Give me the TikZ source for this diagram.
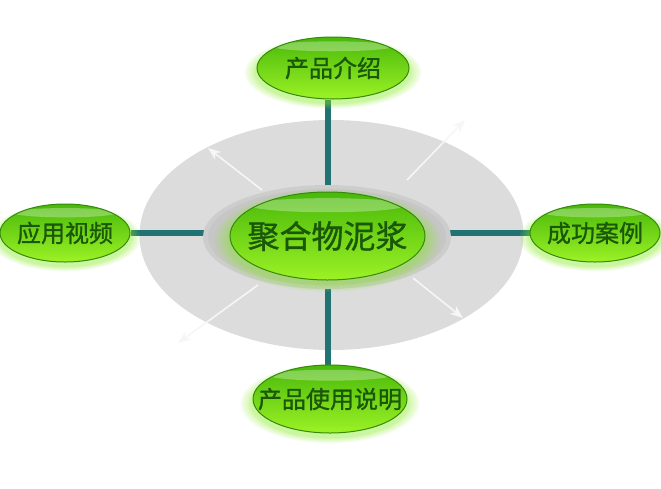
\documentclass[tikz,border=0pt]{standalone}
\usepackage{fontspec}
\newfontfamily\cjk[FakeBold=1.1]{Noto Sans CJK SC}
\usepackage{tikz}
\usetikzlibrary{shapes.geometric,shadows,arrows.meta,calc}

\definecolor{panelgray}{HTML}{DCDCDC}
\definecolor{innergray}{HTML}{C6C6C6}
\definecolor{wirecol}{HTML}{217373}
\definecolor{flowcol}{HTML}{F6F6F6}
\definecolor{bubbletop}{HTML}{48B80A}
\definecolor{bubblemid}{HTML}{6CD814}
\definecolor{bubblebot}{HTML}{9CF225}
\definecolor{bubbleedge}{HTML}{358A0A}
\definecolor{bubbletext}{HTML}{1A5808}
\definecolor{glowcol}{HTML}{86EA22}

\pgfdeclarelayer{back}
\pgfdeclarelayer{wire}
\pgfsetlayers{back,wire,main}

% text of a bubble, kept from widening the ellipse
\newcommand{\bubtext}[1]{\smash{\makebox[0pt]{\raisebox{-.38em}{#1}}}}

\begin{document}
\begin{tikzpicture}[x=1pt, y=-1pt,
  glowring/.style={general shadow={fill=glowcol, fill opacity=.09, shadow scale=#1, shadow yshift=-4pt}},
  bubble/.style={ellipse, draw=bubbleedge, line width=1pt, inner sep=0pt,
    top color=bubbletop, middle color=bubblemid, bottom color=bubblebot, text=bubbletext,
    font=\cjk\fontsize{24}{24}\selectfont,
    glowring=1.16, glowring=1.13, glowring=1.10, glowring=1.07, glowring=1.05, glowring=1.03,
    path picture={
      \path let \p1=($(path picture bounding box.north east)-(path picture bounding box.south west)$) in
        [fill=white, fill opacity=.30]
        ($(path picture bounding box.north)+(0pt,-0.15*\y1)$) ellipse [x radius=0.40*\x1, y radius=0.08*\y1];
    }},
  wire/.style={draw=wirecol, line width=6pt},
  flow/.style={-{Stealth[length=13pt,width=10pt,inset=4pt]}, draw=flowcol, line width=1.6pt}
]
\useasboundingbox (0,0) rectangle (661,488);

% grey panel and flow arrows
\begin{pgfonlayer}{back}
\fill[panelgray] (331.5,235) ellipse [x radius=192, y radius=115];
\coordinate (ulA) at (262,190);
\coordinate (ulB) at (208,148);
\coordinate (urA) at (407,180);
\coordinate (urB) at (465,120);
\coordinate (lrA) at (413,278);
\coordinate (lrB) at (463,318);
\coordinate (llA) at (258,285);
\coordinate (llB) at (178,343);
\draw[flow] (ulA) -- (ulB);
\draw[flow] (urA) -- (urB);
\draw[flow] (lrA) -- (lrB);
\draw[flow] (llA) -- (llB);
\end{pgfonlayer}

\fill[innergray!70!panelgray] (327,237) ellipse [x radius=124, y radius=52];
\fill[innergray] (327,237) ellipse [x radius=119, y radius=48];

\node[bubble, minimum width=195pt, minimum height=88pt,
  font=\cjk\fontsize{32}{32}\selectfont] (core) at (327.5,236) {\bubtext{聚合物泥浆}};
\node[bubble, minimum width=152pt, minimum height=62pt] (intro) at (333,68) {\bubtext{产品介绍}};
\node[bubble, minimum width=130pt, minimum height=58pt] (video) at (65,233) {\bubtext{应用视频}};
\node[bubble, minimum width=130pt, minimum height=58pt] (cases) at (595,233) {\bubtext{成功案例}};
\node[bubble, minimum width=154pt, minimum height=68pt] (manual) at (330,399) {\bubtext{产品使用说明}};

\begin{pgfonlayer}{wire}
\draw[wire] (core) -- (core |- intro.south);
\draw[wire] (core) -- (core |- manual.north);
\draw[wire] (video) -- (video -| core.west);
\draw[wire] (cases) -- (cases -| core.east);
\end{pgfonlayer}

\end{tikzpicture}
\end{document}
